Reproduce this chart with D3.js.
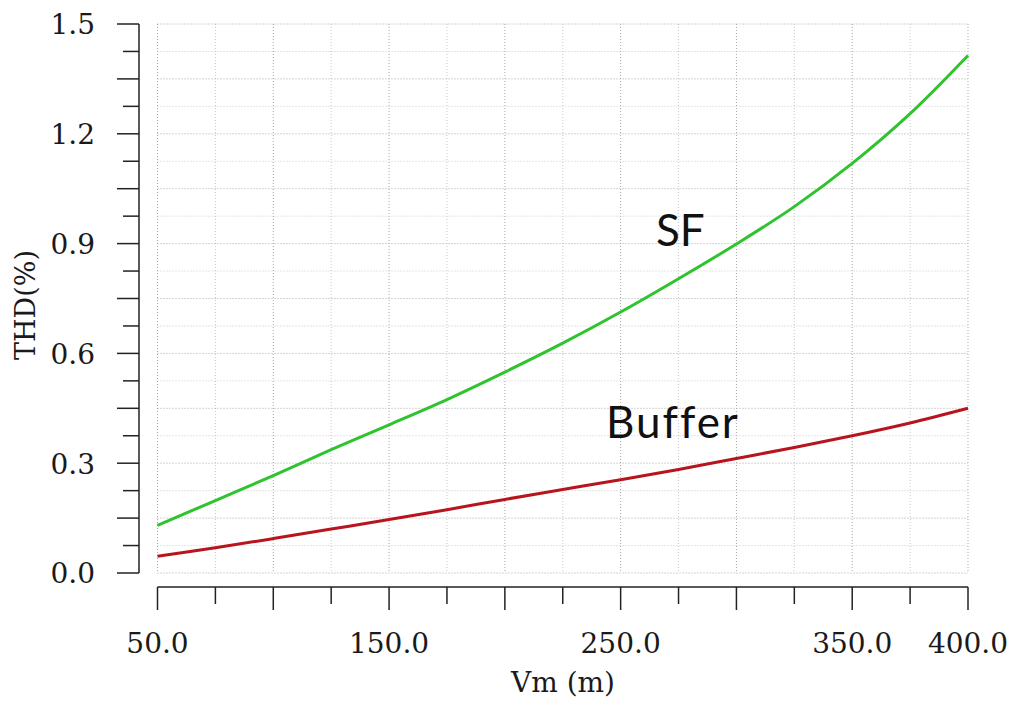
<!DOCTYPE html>
<html>
<head>
<meta charset="utf-8">
<script src="https://cdn.jsdelivr.net/npm/d3@7"></script>
<style>
  html, body { margin: 0; padding: 0; background: #fff; }
  svg { display: block; }
</style>
</head>
<body>
<svg id="canvas" width="1017" height="704"></svg>
<script>
// Vm (m) sample points
const vm = [50, 75, 100, 125, 150, 175, 200, 225, 250, 275, 300, 325, 350, 375, 400];
// THD (%)
const sfThd = [0.130, 0.198, 0.266, 0.337, 0.405, 0.474, 0.549, 0.628, 0.713, 0.804, 0.899, 1.001, 1.119, 1.255, 1.414];
const bufferThd = [0.046, 0.069, 0.094, 0.120, 0.146, 0.173, 0.201, 0.228, 0.255, 0.283, 0.313, 0.343, 0.375, 0.410, 0.450];

const xLabels = [50, 150, 250, 350, 400];
const yLabels = [0, 0.3, 0.6, 0.9, 1.2, 1.5];

const settings = {
  left: 157.5, right: 968, top: 24, bottom: 573,
  xAxisY: 587, yAxisX: 139,
  serif: "'DejaVu Serif', serif",
  sans: "Lato, 'Open Sans', sans-serif",
};

const svg = d3.select("#canvas");

const x = d3.scaleLinear().domain([50, 400]).range([settings.left, settings.right]);
const y = d3.scaleLinear().domain([0, 1.5]).range([settings.bottom, settings.top]);

const xTicks = d3.range(50, 401, 25);
const yTicks = d3.range(0, 21).map(i => +(i * 0.075).toFixed(3));
const isMajorX = d => d % 50 === 0;
const isMajorY = d => Math.abs(d / 0.15 - Math.round(d / 0.15)) < 1e-6;

// dotted grid
const grid = svg.append("g").attr("class", "grid").attr("stroke-dasharray", "1,2");
grid.selectAll("line.v")
  .data(xTicks)
  .join("line")
  .attr("class", "v")
  .attr("x1", d => x(d)).attr("x2", d => x(d))
  .attr("y1", y(1.5)).attr("y2", y(0))
  .attr("stroke", d => isMajorX(d) ? "#a8a8a8" : "#cacaca");
grid.selectAll("line.h")
  .data(yTicks)
  .join("line")
  .attr("class", "h")
  .attr("x1", x(50)).attr("x2", x(400))
  .attr("y1", d => y(d)).attr("y2", d => y(d))
  .attr("stroke", d => isMajorY(d) ? "#a8a8a8" : "#cacaca");

// x axis
const xAxis = svg.append("g").attr("class", "x-axis");
xAxis.append("line")
  .attr("x1", x(50)).attr("x2", x(400))
  .attr("y1", settings.xAxisY).attr("y2", settings.xAxisY)
  .attr("stroke", "#222").attr("stroke-width", 1.5);
xAxis.selectAll("line.tick")
  .data(xTicks)
  .join("line")
  .attr("class", "tick")
  .attr("x1", d => x(d)).attr("x2", d => x(d))
  .attr("y1", settings.xAxisY)
  .attr("y2", d => settings.xAxisY + (isMajorX(d) ? 23 : 17))
  .attr("stroke", "#222").attr("stroke-width", 1.5);
xAxis.selectAll("text")
  .data(xLabels)
  .join("text")
  .attr("x", d => x(d))
  .attr("y", 653)
  .attr("text-anchor", "middle")
  .attr("font-family", settings.serif)
  .attr("font-size", 28)
  .attr("fill", "#1a1a1a")
  .text(d => d3.format(".1f")(d));
svg.append("text")
  .attr("x", 563)
  .attr("y", 692)
  .attr("text-anchor", "middle")
  .attr("font-family", settings.serif)
  .attr("font-size", 28)
  .attr("fill", "#1a1a1a")
  .text("Vm (m)");

// y axis
const yAxis = svg.append("g").attr("class", "y-axis");
yAxis.append("line")
  .attr("x1", settings.yAxisX).attr("x2", settings.yAxisX)
  .attr("y1", y(1.5)).attr("y2", y(0))
  .attr("stroke", "#222").attr("stroke-width", 1.5);
yAxis.selectAll("line.tick")
  .data(yTicks)
  .join("line")
  .attr("class", "tick")
  .attr("x1", d => settings.yAxisX - (isMajorY(d) ? 22 : 16))
  .attr("x2", settings.yAxisX)
  .attr("y1", d => y(d)).attr("y2", d => y(d))
  .attr("stroke", "#222").attr("stroke-width", 1.5);
yAxis.selectAll("text")
  .data(yLabels)
  .join("text")
  .attr("x", 95)
  .attr("y", d => y(d))
  .attr("dy", "0.37em")
  .attr("text-anchor", "end")
  .attr("font-family", settings.serif)
  .attr("font-size", 28)
  .attr("fill", "#1a1a1a")
  .text(d => d3.format(".1f")(d));
svg.append("text")
  .attr("transform", "translate(35,305) rotate(-90)")
  .attr("text-anchor", "middle")
  .attr("font-family", settings.serif)
  .attr("font-size", 27)
  .attr("fill", "#1a1a1a")
  .text("THD(%)");

// curves
const line = d3.line()
  .x((d, i) => x(vm[i]))
  .y(d => y(d))
  .curve(d3.curveCatmullRom);

svg.append("path")
  .datum(sfThd)
  .attr("d", line)
  .attr("fill", "none")
  .attr("stroke", "#2fc42f")
  .attr("stroke-width", 3);

svg.append("path")
  .datum(bufferThd)
  .attr("d", line)
  .attr("fill", "none")
  .attr("stroke", "#b8141e")
  .attr("stroke-width", 3);

// annotations
svg.append("text")
  .attr("x", 656)
  .attr("y", 246)
  .attr("font-family", settings.sans)
  .attr("font-size", 44)
  .attr("fill", "#111")
  .text("SF");
svg.append("text")
  .attr("x", 606)
  .attr("y", 438)
  .attr("font-family", settings.sans)
  .attr("font-size", 44)
  .attr("letter-spacing", 2)
  .attr("fill", "#111")
  .text("Buffer");
</script>
</body>
</html>
